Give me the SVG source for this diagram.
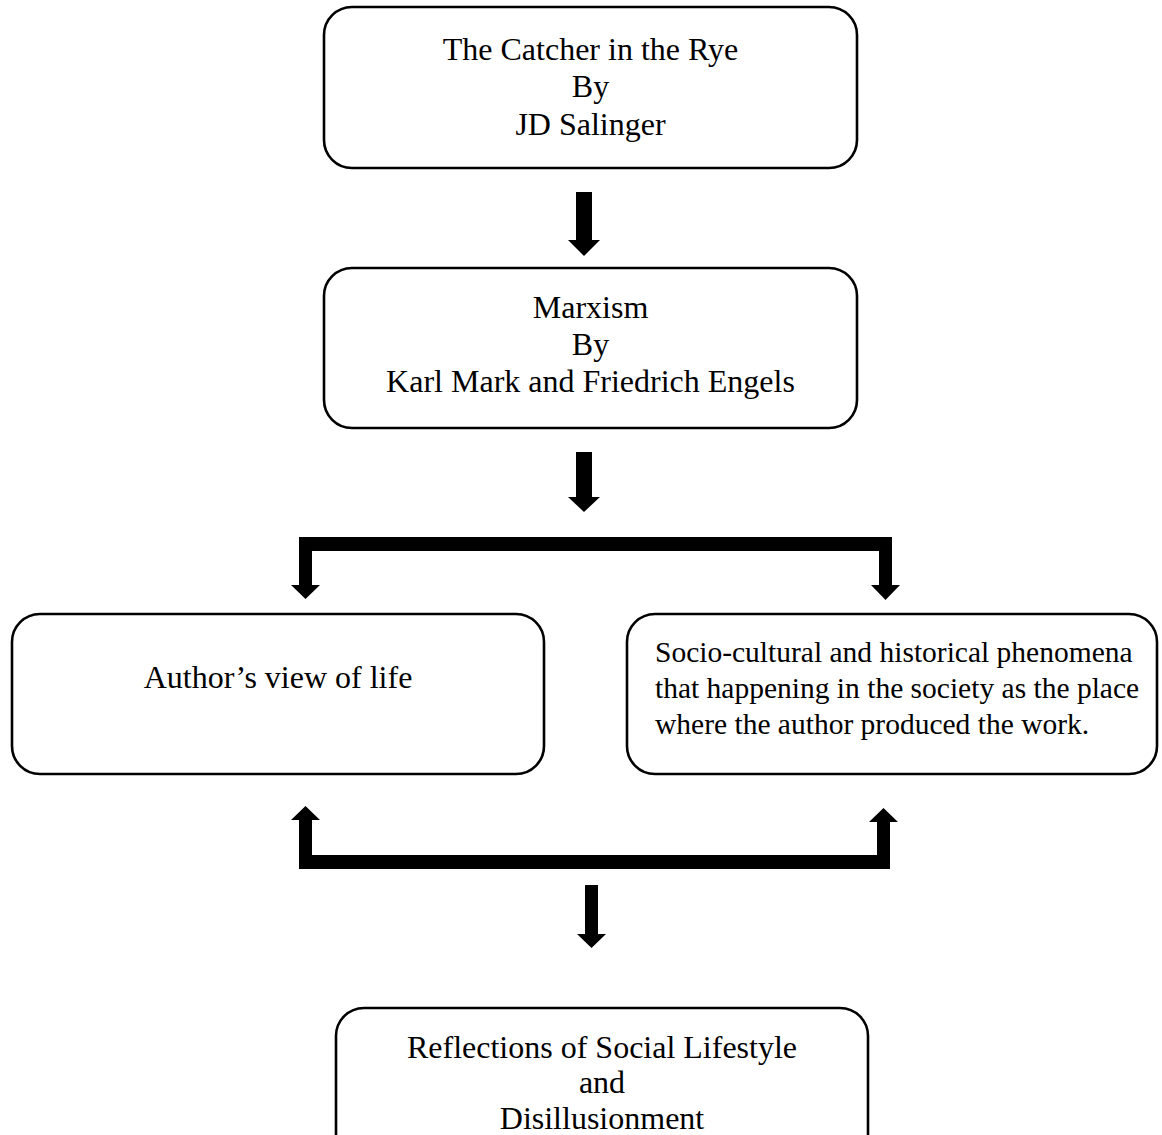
<svg xmlns="http://www.w3.org/2000/svg" width="1162" height="1135" viewBox="0 0 1162 1135">
<style>
.box{fill:#fff;stroke:#000;stroke-width:2.6}
.t{font-family:"Liberation Serif","Times New Roman",serif;font-size:32px;fill:#000}
.s{font-size:29.5px}
.c{text-anchor:middle}
.conn{fill:#000;stroke:none}
</style>
<rect width="1162" height="1135" fill="#fff"/>
<g id="connectors">
<polygon class="conn" points="576,192 592,192 592,240 600,240 584,256 568,240 576,240"/>
<polygon class="conn" points="576,452 592,452 592,497 600,497 584,512 568,497 576,497"/>
<polygon class="conn" points="299,537 892,537 892,585 900,585 885.5,600 871,585 879,585 879,551 312,551 312,585 320,585 305.5,599 291,585 299,585"/>
<polygon class="conn" points="299,820 291,820 305.5,806 320,820 312,820 312,855 877,855 877,822 869,822 883.5,808 898,822 890,822 890,869 299,869"/>
<polygon class="conn" points="585,885 598,885 598,934 606,934 591.5,948 577,934 585,934"/>
</g>
<g id="node-catcher">
<rect class="box" x="324" y="7" width="533" height="161" rx="28"/>
<text class="t c" x="590.5" y="60">The Catcher in the Rye</text>
<text class="t c" x="590.5" y="97">By</text>
<text class="t c" x="590.5" y="135">JD Salinger</text>
</g>
<g id="node-marxism">
<rect class="box" x="324" y="268" width="533" height="160" rx="28"/>
<text class="t c" x="590.5" y="318">Marxism</text>
<text class="t c" x="590.5" y="355">By</text>
<text class="t c" x="590.5" y="392">Karl Mark and Friedrich Engels</text>
</g>
<g id="node-author">
<rect class="box" x="12" y="614" width="532" height="160" rx="28"/>
<text class="t c" x="278" y="688">Author’s view of life</text>
</g>
<g id="node-socio">
<rect class="box" x="627" y="614" width="530" height="160" rx="28"/>
<text class="t s" x="655" y="662">Socio-cultural and historical phenomena</text>
<text class="t s" x="655" y="698">that happening in the society as the place</text>
<text class="t s" x="655" y="734">where the author produced the work.</text>
</g>
<g id="node-reflections">
<rect class="box" x="336" y="1008" width="532" height="160" rx="28"/>
<text class="t c" x="602" y="1058">Reflections of Social Lifestyle</text>
<text class="t c" x="602" y="1093">and</text>
<text class="t c" x="602" y="1129">Disillusionment</text>
</g>
</svg>
